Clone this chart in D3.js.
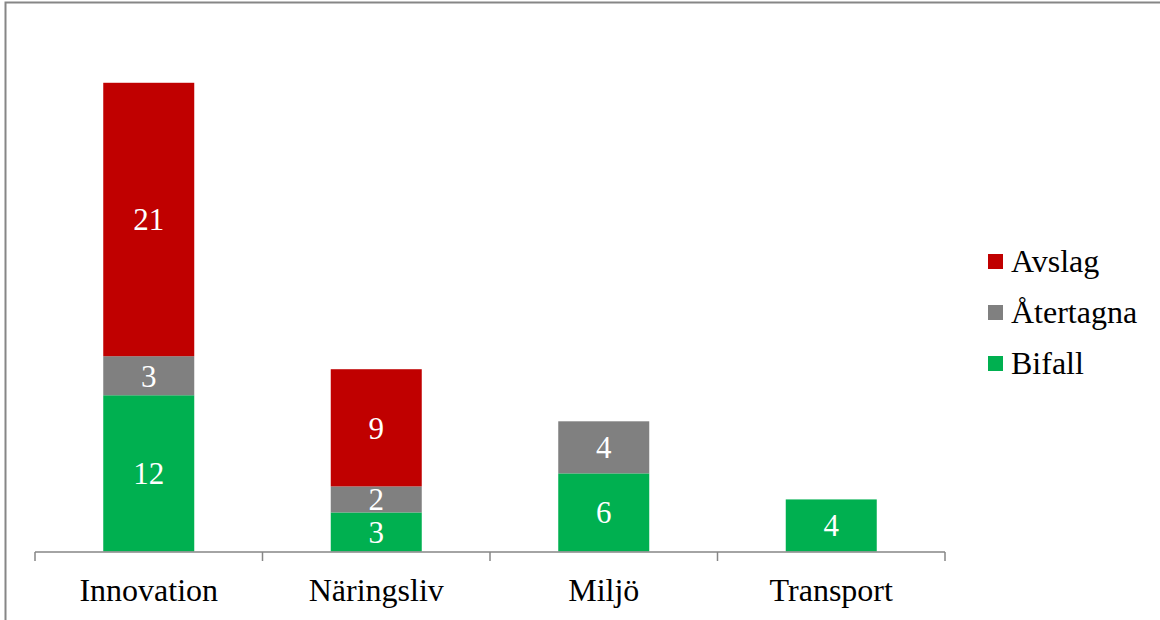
<!DOCTYPE html>
<html>
<head>
<meta charset="utf-8">
<script src="https://cdn.jsdelivr.net/npm/d3@7"></script>
<style>
  body { margin: 0; background: #fff; }
  svg { display: block; }
</style>
</head>
<body>
<div id="chart"></div>
<script>
const categories = ['Innovation', 'Näringsliv', 'Miljö', 'Transport'];
const seriesNames = ['Bifall', 'Återtagna', 'Avslag'];
const bifall = [12, 3, 6, 4];
const atertagna = [3, 2, 4, 0];
const avslag = [21, 9, 0, 0];
const legendOrder = ['Avslag', 'Återtagna', 'Bifall'];

const width = 1160;
const height = 620;
const colors = {Bifall: '#00b050', 'Återtagna': '#808080', Avslag: '#c00000'};
const axisColor = '#868686';
const serif = "'Liberation Serif', 'DejaVu Serif', serif";

const rows = categories.map((c, i) => ({
  category: c,
  Bifall: bifall[i],
  'Återtagna': atertagna[i],
  Avslag: avslag[i]
}));

const svg = d3.select('#chart').append('svg')
    .attr('width', width)
    .attr('height', height)
    .style('font-family', serif);

// outer frame (only left and top edges are visible)
svg.append('path')
  .attr('d', `M5.5,${height} V2.5 H${width}`)
  .attr('fill', 'none')
  .attr('stroke', axisColor)
  .attr('stroke-width', 2);

const x = d3.scaleBand()
  .domain(categories)
  .range([35, 945])
  .paddingInner(0.6)
  .paddingOuter(0.3);

const y = d3.scaleLinear()
  .domain([0, 40])
  .range([551.5, 30.7]);

const stacked = d3.stack().keys(seriesNames)(rows);

const layers = svg.selectAll('.layer')
  .data(stacked)
  .enter().append('g')
    .attr('class', 'layer')
    .attr('fill', d => colors[d.key]);

layers.selectAll('rect')
  .data(d => d.filter(p => p[1] - p[0] > 0))
  .enter().append('rect')
    .attr('x', d => x(d.data.category))
    .attr('width', x.bandwidth())
    .attr('y', d => y(d[1]))
    .attr('height', d => y(d[0]) - y(d[1]));

layers.selectAll('text')
  .data(d => d.filter(p => p[1] - p[0] > 0))
  .enter().append('text')
    .attr('x', d => x(d.data.category) + x.bandwidth() / 2)
    .attr('y', d => y((d[0] + d[1]) / 2))
    .attr('dy', '0.35em')
    .attr('text-anchor', 'middle')
    .attr('fill', '#fff')
    .attr('font-family', serif)
    .attr('font-size', 31)
    .text(d => d[1] - d[0]);

// category axis with ticks between the categories
const axisY = 552;
const step = x.step();
const bounds = d3.range(categories.length + 1).map(i => 35 + i * step);

const axis = svg.append('g');
axis.append('line')
  .attr('x1', 35).attr('x2', 945)
  .attr('y1', axisY).attr('y2', axisY)
  .attr('stroke', axisColor)
  .attr('stroke-width', 1.5);

axis.selectAll('.tick')
  .data(bounds)
  .enter().append('line')
    .attr('class', 'tick')
    .attr('x1', d => d).attr('x2', d => d)
    .attr('y1', axisY).attr('y2', axisY + 9)
    .attr('stroke', axisColor)
    .attr('stroke-width', 1.5);

axis.selectAll('.cat-label')
  .data(categories)
  .enter().append('text')
    .attr('class', 'cat-label')
    .attr('x', d => x(d) + x.bandwidth() / 2)
    .attr('y', 601)
    .attr('text-anchor', 'middle')
    .attr('font-family', serif)
    .attr('font-size', 32)
    .attr('fill', '#000')
    .text(d => d);

// legend
const legend = svg.append('g')
  .attr('transform', 'translate(988, 254)');

const items = legend.selectAll('.item')
  .data(legendOrder)
  .enter().append('g')
    .attr('class', 'item')
    .attr('transform', (d, i) => `translate(0, ${i * 51})`);

items.append('rect')
  .attr('width', 15)
  .attr('height', 15)
  .attr('fill', d => colors[d]);

items.append('text')
  .attr('x', 23)
  .attr('y', 18)
  .attr('font-family', serif)
  .attr('font-size', 32)
  .attr('fill', '#000')
  .text(d => d);
</script>
</body>
</html>
